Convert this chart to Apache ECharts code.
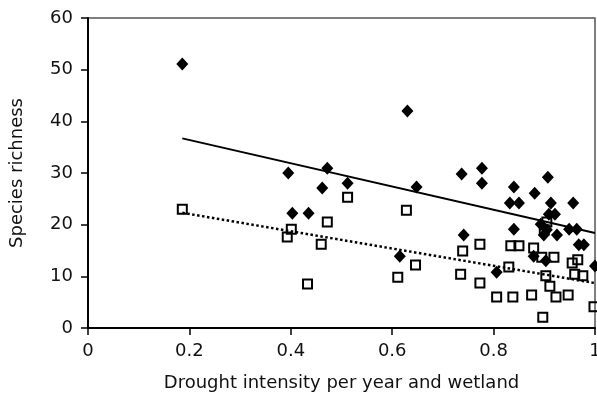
<!DOCTYPE html>
<html>
<head>
<meta charset="utf-8">
<script src="https://cdn.jsdelivr.net/npm/echarts@6/dist/echarts.min.js"></script>
<style>
  html, body { margin: 0; padding: 0; background: #fff; }
  #main { width: 597px; height: 399px; }
</style>
</head>
<body>
<div id="main"></div>
<script>
// filled diamonds: [drought intensity, species richness]
var diamonds = [
  [0.186, 51.1], [0.395, 30.0], [0.403, 22.2], [0.435, 22.2], [0.462, 27.1],
  [0.472, 30.9], [0.512, 28.0], [0.615, 13.9], [0.630, 42.0], [0.648, 27.3],
  [0.737, 29.8], [0.741, 18.0], [0.777, 30.9], [0.777, 28.0], [0.806, 10.8],
  [0.832, 24.2], [0.840, 27.3], [0.840, 19.1], [0.850, 24.2], [0.879, 13.9],
  [0.881, 26.1], [0.893, 20.1], [0.899, 18.0], [0.903, 13.0], [0.907, 29.2],
  [0.909, 22.0], [0.913, 24.2], [0.921, 22.0], [0.925, 18.0], [0.949, 19.1],
  [0.957, 24.2], [0.964, 19.1], [0.968, 16.1], [0.978, 16.1], [1.0, 12.0],
  [0.905, 19.0]
];
// open squares
var squares = [
  [0.186, 23.0], [0.393, 17.6], [0.401, 19.1], [0.433, 8.5], [0.460, 16.2],
  [0.472, 20.5], [0.512, 25.3], [0.611, 9.8], [0.628, 22.8], [0.646, 12.2],
  [0.735, 10.4], [0.739, 14.9], [0.773, 16.2], [0.773, 8.7], [0.806, 6.0],
  [0.830, 11.8], [0.834, 15.9], [0.838, 6.0], [0.850, 15.9], [0.875, 6.4],
  [0.879, 15.5], [0.895, 13.7], [0.897, 2.1], [0.903, 10.1], [0.905, 20.5],
  [0.911, 8.1], [0.919, 13.7], [0.923, 6.0], [0.947, 6.4], [0.955, 12.6],
  [0.960, 10.4], [0.966, 13.2], [0.976, 10.1], [0.998, 4.1], [0.900, 19.0]
];
// regression lines (end points)
var trendDiamonds = [[0.186, 36.7], [1.0, 18.4]];
var trendSquares = [[0.186, 22.3], [1.0, 8.7]];

var xTicks = [0, 0.2, 0.4, 0.6, 0.8, 1];
var yTicks = [0, 10, 20, 30, 40, 50, 60];

var font = 'DejaVu Sans';
var chart = echarts.init(document.getElementById('main'));

chart.setOption({
  animation: false,
  grid: {
    left: 88, right: 2, top: 18, bottom: 71,
    show: true, borderColor: '#555', borderWidth: 1.5,
    outerBoundsMode: 'none'
  },
  xAxis: {
    type: 'value',
    min: xTicks[0], max: xTicks[xTicks.length - 1], interval: 0.2,
    name: 'Drought intensity per year and wetland',
    nameLocation: 'middle', nameGap: 46,
    nameTextStyle: { fontFamily: font, fontSize: 18, color: '#111' },
    axisLine: { lineStyle: { color: '#000', width: 2 } },
    axisTick: { show: true, length: 7, lineStyle: { color: '#000', width: 1.5 } },
    axisLabel: {
      margin: 14, fontFamily: font, fontSize: 18, color: '#111',
      formatter: function (v) { return String(+v.toFixed(1)); }
    },
    splitLine: { show: false }
  },
  yAxis: {
    type: 'value',
    min: yTicks[0], max: yTicks[yTicks.length - 1], interval: 10,
    name: 'Species richness',
    nameLocation: 'middle', nameGap: 62,
    nameTextStyle: { fontFamily: font, fontSize: 18, color: '#111' },
    axisLine: { lineStyle: { color: '#000', width: 2 } },
    axisTick: { show: true, length: 7, lineStyle: { color: '#000', width: 1.5 } },
    axisLabel: { margin: 15, fontFamily: font, fontSize: 18, color: '#111' },
    splitLine: { show: false }
  },
  series: [
    {
      type: 'line', data: trendDiamonds, showSymbol: false, silent: true,
      lineStyle: { color: '#000', width: 2 }, z: 1
    },
    {
      type: 'line', data: trendSquares, showSymbol: false, silent: true,
      lineStyle: { color: '#000', width: 2.5, type: [2.5, 2.5] }, z: 1
    },
    {
      type: 'scatter', data: diamonds, symbol: 'diamond', symbolSize: [12, 13],
      itemStyle: { color: '#000', opacity: 1 }, z: 2
    },
    {
      type: 'scatter', data: squares, symbol: 'rect', symbolSize: 9,
      itemStyle: { color: 'rgba(0,0,0,0)', borderColor: '#000', borderWidth: 2, opacity: 1 }, z: 3
    }
  ]
});
</script>
</body>
</html>
